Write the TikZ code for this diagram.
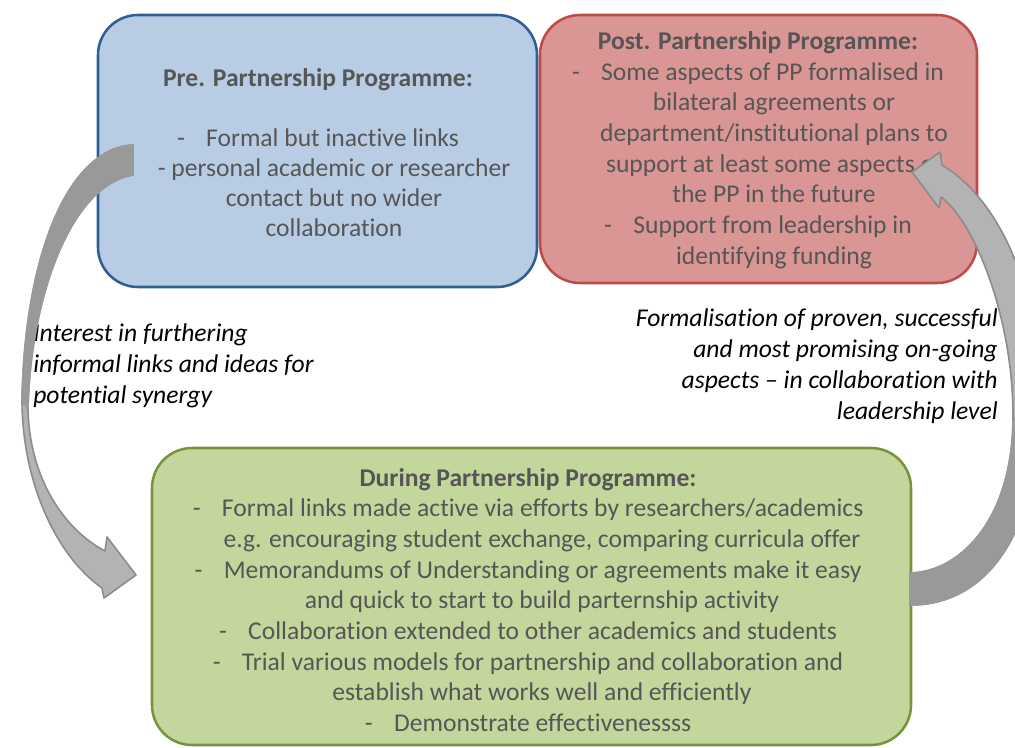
\documentclass[tikz,border=0pt]{standalone}
\usepackage{fontspec}
\setmainfont{Carlito}[Ligatures={NoCommon,NoRare}]

\definecolor{preblue}{HTML}{B8CCE4}
\definecolor{preedge}{HTML}{2E5F92}
\definecolor{postred}{HTML}{D99694}
\definecolor{postedge}{HTML}{BE4B48}
\definecolor{durgreen}{HTML}{C3D69B}
\definecolor{duredge}{HTML}{77933C}
\definecolor{boxtext}{HTML}{565656}
\definecolor{arrowdark}{HTML}{999999}
\definecolor{arrowlight}{HTML}{B3B3B3}
\definecolor{arrowedge}{HTML}{8C8C8C}

\tikzset{
  phase/.style={draw, rounded corners=30pt, line width=1.9pt, inner sep=0pt},
  phasetext/.style={text=boxtext, align=center, inner sep=0pt},
  notetext/.style={text=black, inner sep=0pt, font=\fontsize{19.2}{23.25}\selectfont\itshape},
  shaftdark/.style={fill=arrowdark, draw=arrowdark, line width=1.2pt, line join=round},
  shaftlight/.style={fill=arrowlight, draw=arrowedge, line width=1.2pt, line join=round}
}

\begin{document}
\begin{tikzpicture}[x=0.75pt,y=-0.75pt]
\useasboundingbox (0,0) rectangle (1015,747);
\fill[white] (0,0) rectangle (1015,747);
\clip (0,0) rectangle (1015,747);

% the three phases
\node[phase, fill=preblue, draw=preedge, minimum width=329.25pt, minimum height=204pt] (pre) at (317.5,151) {};
\node[phase, fill=postred, draw=postedge, minimum width=327.75pt, minimum height=201pt] (post) at (758.5,149) {};
\node[phase, fill=durgreen, draw=duredge, minimum width=569.25pt, minimum height=222.75pt] (during) at (531.5,596.5) {};

\node[phasetext, font=\fontsize{19.2}{22.5}\selectfont] (pretext) at (318,153) {%
  \textbf{Pre. Partnership Programme:}\\[22.5pt]
  -\hspace{16pt}Formal but inactive links\\
  \hspace*{24pt}- personal academic or researcher\\
  \hspace*{24pt}contact but no wider\\
  \hspace*{24pt}collaboration};

\node[phasetext, font=\fontsize{19.2}{23}\selectfont] (posttext) at (758,150) {%
  \textbf{Post. Partnership Programme:}\\
  -\hspace{16pt}Some aspects of PP formalised in\\
  \hspace*{24pt}bilateral agreements or\\
  \hspace*{24pt}department/institutional plans to\\
  \hspace*{24pt}support at least some aspects of\\
  \hspace*{24pt}the PP in the future\\
  -\hspace{16pt}Support from leadership in\\
  \hspace*{24pt}identifying funding};

\node[phasetext, font=\fontsize{19.2}{23}\selectfont] (duringtext) at (528,600) {%
  \textbf{During Partnership Programme:}\\
  -\hspace{16pt}Formal links made active via efforts by researchers/academics\\
  \hspace*{21pt}e.g. encouraging student exchange, comparing curricula offer\\
  -\hspace{16pt}Memorandums of Understanding or agreements make it easy\\
  \hspace*{21pt}and quick to start to build parternship activity\\
  -\hspace{16pt}Collaboration extended to other academics and students\\
  -\hspace{16pt}Trial various models for partnership and collaboration and\\
  \hspace*{21pt}establish what works well and efficiently\\
  -\hspace{16pt}Demonstrate effectivenessss};

% transition notes
\node[notetext, align=left, anchor=west] (intonote) at (33,366) {%
  Interest in furthering\\
  informal links and ideas for\\
  potential synergy};
\node[notetext, align=right, anchor=east] (outnote) at (998,366) {%
  Formalisation of proven, successful\\
  and most promising on-going\\
  aspects – in collaboration with\\
  leadership level};

% curved arrow: pre -> during
\path[shaftlight] (133,145) .. controls (70,148) and (25,250) .. (22,400)
  .. controls (22,480) and (55,555) .. (102,588) -- (104,598) -- (136,575) -- (107,537) -- (105,551)
  .. controls (65,530) and (30,480) .. (28,410)
  .. controls (30,300) and (70,185) .. (133,175) -- cycle;
\path[shaftdark] (133,145) .. controls (70,148) and (25,250) .. (22,400) -- (28,410)
  .. controls (30,300) and (70,185) .. (133,175) -- cycle;

% curved arrow: during -> post
\path[shaftlight] (910,605) .. controls (995,605) and (1040,520) .. (1040,400)
  .. controls (1040,290) and (1000,200) .. (942,165) -- (940,152) -- (912,172) -- (939,208) -- (941,197)
  .. controls (975,222) and (1014,320) .. (1013,420)
  .. controls (1012,520) and (960,572) .. (910,573) -- cycle;
\path[shaftdark] (910,605) .. controls (995,605) and (1040,520) .. (1040,400) -- (1013,420)
  .. controls (1012,520) and (960,572) .. (910,573) -- cycle;
\end{tikzpicture}
\end{document}
